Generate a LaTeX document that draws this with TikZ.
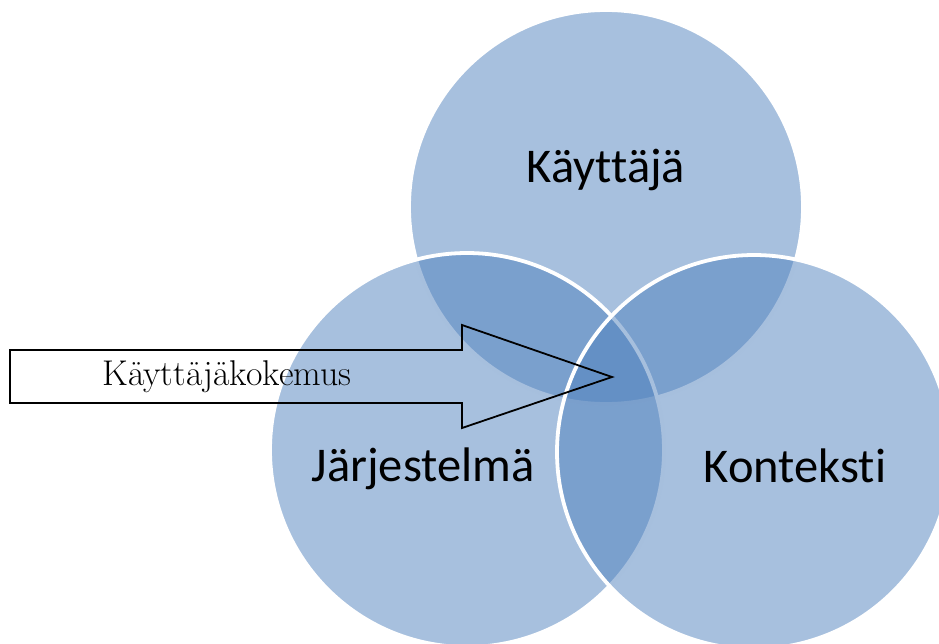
\documentclass[tikz,border=0pt]{standalone}
\usepackage{fontspec}
\newfontfamily\calibri[Ligatures=NoCommon]{Carlito}
\begin{document}
\begin{tikzpicture}[x=1pt,y=-1pt,
  venn/.style={circle, inner sep=0pt, minimum size=394pt, fill={rgb,255:red,79;green,129;blue,189}, fill opacity=0.5, draw=white, draw opacity=1, line width=3.8pt},
  biglabel/.style={anchor=base, inner sep=0pt, font=\calibri\fontsize{48.5}{56}\selectfont, text=black},
  arrowlabel/.style={anchor=base, inner sep=0pt, font=\fontsize{35.8}{42}\selectfont, text=black},
  blockarrow/.style={draw=black, line width=1.8pt, line join=miter}]
\useasboundingbox (0,0) rectangle (939,643);
\node[venn] (top) at (606,207) {};
\node[venn] (left) at (467,450) {};
\node[venn] (right) at (754,452) {};
\node[biglabel] (ltop) at (606,182) {Käyttäjä};
\node[biglabel] (lleft) at (423,481) {Järjestelmä};
\node[biglabel] (lright) at (795,482) {Konteksti};
\draw[blockarrow] (10,350) -- (462,350) -- (462,325) -- (612,377) -- (462,428) -- (462,403) -- (10,403) -- cycle;
\node[arrowlabel] (ux) at (227,385) {Käyttäjäkokemus};
\end{tikzpicture}
\end{document}
